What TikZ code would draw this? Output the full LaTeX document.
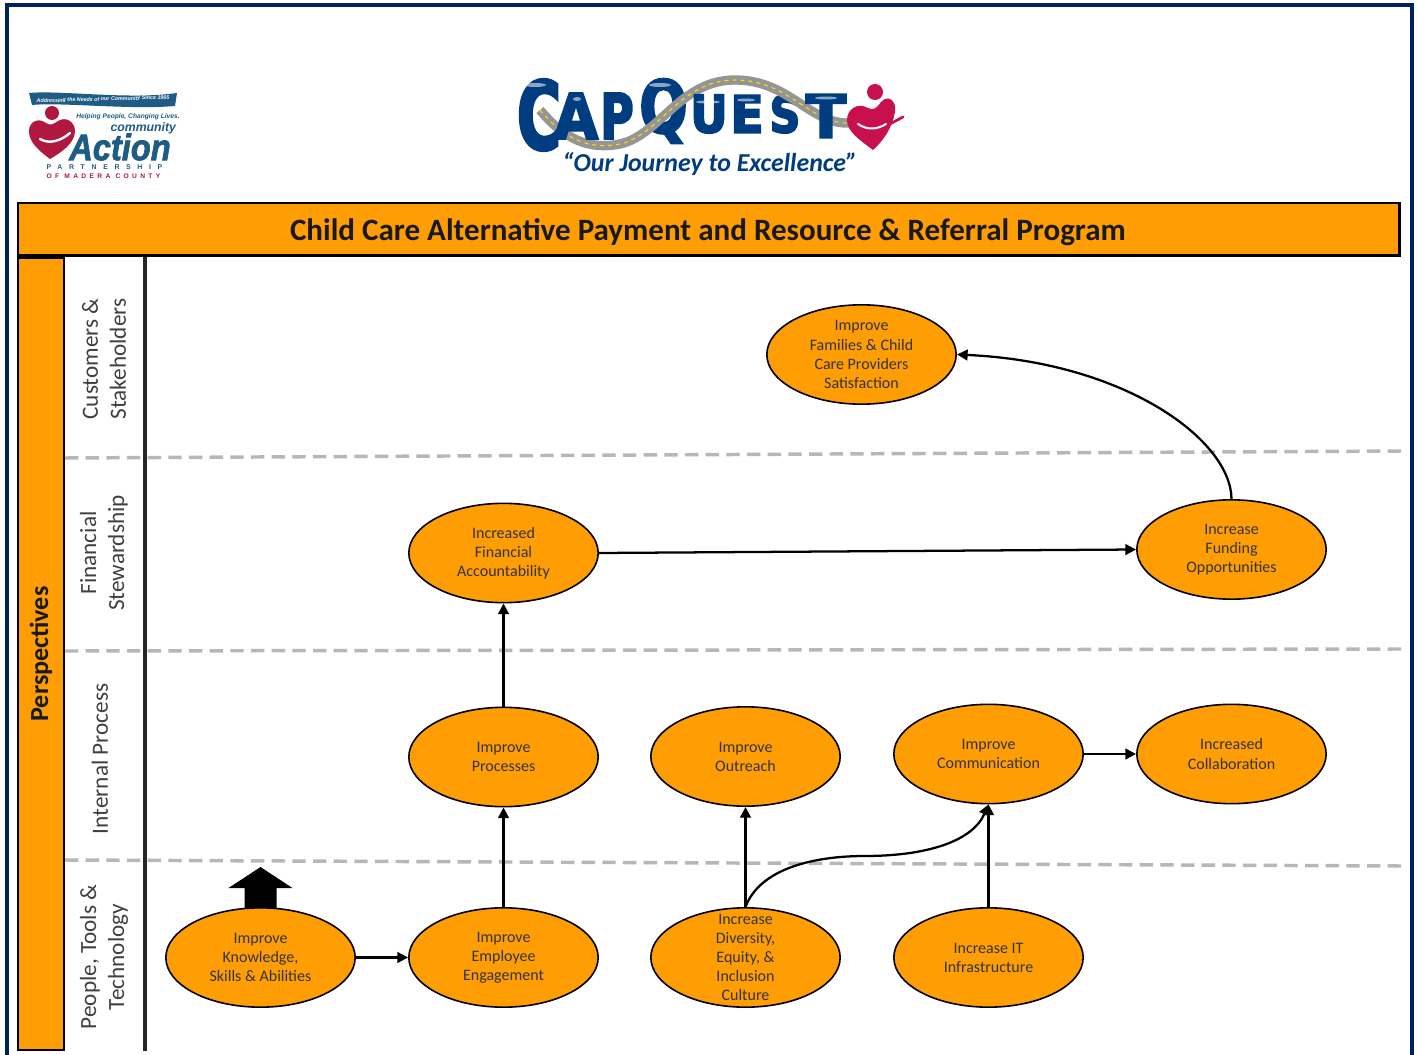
\documentclass[tikz,border=0pt]{standalone}
\usepackage{graphicx}
\usepackage{fontspec}
\setmainfont{Carlito}
\newfontfamily\capfont[UprightFont=* Bold,FakeBold=4]{DejaVu Sans}
\newfontfamily\actfont[UprightFont=* Bold Italic,FakeBold=2]{Liberation Sans}
\newfontfamily\logofont[UprightFont=* Bold,ItalicFont=* Bold Italic]{Liberation Sans}
\newfontfamily\partfont[UprightFont=* Bold,LetterSpace=96]{Liberation Sans}
\newfontfamily\madfont[UprightFont=* Bold,LetterSpace=50]{Liberation Sans}
\usetikzlibrary{shapes.geometric,arrows.meta}
\definecolor{navy}{HTML}{002060}
\definecolor{amber}{HTML}{FF9E04}
\definecolor{dashgray}{HTML}{B8B6B6}
\definecolor{capblue}{HTML}{003C80}
\definecolor{logoblue}{HTML}{1F5C85}
\definecolor{heartred}{HTML}{B01840}
\definecolor{capred}{HTML}{C8104F}
\definecolor{roadgray}{HTML}{959595}
\tikzset{
  oval/.style={ellipse,draw=black,line width=1.2pt,fill=amber,minimum width=142pt,minimum height=74.5pt,inner sep=-16pt,align=center,font=\fontsize{12pt}{14.3pt}\selectfont,text=black!80},
  barbox/.style={draw=black,line width=2pt,fill=amber},
  side/.style={rotate=90,align=center,text=black!75,font=\fontsize{17.4pt}{21pt}\selectfont},
  link/.style={line width=1.7pt,draw=black,-{Triangle[length=8pt,width=8pt]}},
  sep/.style={draw=dashgray,line width=2.6pt,dash pattern=on 10pt off 5.5pt},
  plain/.style={inner sep=0pt,outer sep=0pt},
  shine/.style={fill=white,opacity=0.55}
}
\begin{document}
\begin{tikzpicture}[x=0.75pt,y=-0.75pt]
\useasboundingbox (0,0) rectangle (1417,1055);
\fill[white] (0,0) rectangle (1417,1055);
% frame
\draw[navy,line width=3.3pt] (7,1055) -- (7,5) -- (1412,5) -- (1412,1055);

% bars
\node[barbox,plain,minimum width=1036pt,minimum height=39.5pt,anchor=north west,draw=black] (titlebar) at (18,203) {};
\node[font=\fontsize{23.3pt}{26pt}\selectfont\bfseries,text=black!90,plain] (title) at (708,232) {Child Care Alternative Payment and Resource \& Referral Program};
\node[barbox,plain,minimum width=34.5pt,minimum height=594pt,anchor=north west] (persp) at (18,258) {};
\node[rotate=90,font=\fontsize{19.6pt}{22pt}\selectfont\bfseries,text=black!90,plain] (persplabel) at (41,654) {Perspectives};
\coordinate (axt) at (145,257);
\coordinate (axb) at (145,1051);
\draw[line width=2.4pt,black!85] (axt) -- (axb);

% separators
\coordinate (s1a) at (65,458); \coordinate (s1b) at (1402,451);
\coordinate (s2a) at (65,651); \coordinate (s2b) at (1402,649);
\coordinate (s3a) at (65,860); \coordinate (s3b) at (1402,866);
\draw[sep] (s1a) -- (s1b);
\draw[sep] (s2a) -- (s2b);
\draw[sep] (s3a) -- (s3b);

% side labels
\node[side] (l1) at (104,359) {Customers \&\\Stakeholders};
\node[side] (l2) at (104,553) {Financial\\Stewardship};
\node[side] (l3) at (100,759) {Internal Process};
\node[side] (l4) at (104,957) {People, Tools \&\\Technology};

% ovals
\node[oval] (fam) at (861.5,354.5) {Improve\\Families \& Child\\Care Providers\\Satisfaction};
\node[oval] (fin) at (503.5,553) {Increased\\Financial\\Accountability};
\node[oval] (fund) at (1231.5,549.5) {Increase\\Funding\\Opportunities};
\node[oval] (proc) at (503.5,757) {Improve\\Processes};
\node[oval] (outr) at (745.5,756.5) {Improve\\Outreach};
\node[oval] (comm) at (988.5,754) {Improve\\Communication};
\node[oval] (coll) at (1231.5,754) {Increased\\Collaboration};
\node[oval] (know) at (260.5,957.5) {Improve\\Knowledge,\\Skills \& Abilities};
\node[oval] (enga) at (503.5,957.5) {Improve\\Employee\\Engagement};
\node[oval] (dive) at (745.5,957.5) {Increase\\Diversity,\\Equity, \&\\Inclusion\\Culture};
\node[oval] (it) at (988.5,957.5) {Increase IT\\Infrastructure};

% connectors
\draw[link] (fund.north) .. controls (1231,440) and (1125,362) .. (fam.east);
\draw[link] (fin.east) -- (fund.west);
\draw[link] (proc.north) -- (fin.south);
\draw[link] (enga.north) -- (proc.south);
\draw[link] (dive.north) -- (outr.south);
\draw[link] (it.north) -- (comm.south);
\draw[link] (comm.east) -- (coll.west);
\draw[link] (know.east) -- (enga.west);
\draw[link] (dive.north) .. controls (760,868) and (815,856) .. (865,856) .. controls (925,856) and (972,842) .. (comm.south);
% block arrow
\fill[black] (know.north) ++(-16,1) -- ++(0,-20) -- ++(-16,0) -- ++(32,-21) -- ++(32,21) -- ++(-16,0) -- ++(0,20) -- cycle;

% left logo
\fill[logoblue] (29,93) .. controls (60,90) and (130,100) .. (177,93) -- (175,106) .. controls (130,110) and (60,102) .. (32,105) -- cycle;
\node[plain,rotate=1.5,text=white,font=\logofont\fontsize{4pt}{5pt}\selectfont\itshape] (lg0) at (103,99.5) {Addressing the Needs of our Community Since 1965};
\fill[heartred] (52,113) circle (7);
\fill[heartred] (50,159) .. controls (38,150) and (29,142) .. (29,131) .. controls (29,122) and (38,117) .. (46,123) .. controls (50,126) and (54,124) .. (58,121) .. controls (66,116) and (75,122) .. (75,131) .. controls (75,143) and (62,152) .. (50,159) -- cycle;
\draw[white,line width=1.8pt,line cap=round] (40,139) .. controls (50,145) and (62,140) .. (70,133);
\node[plain,text=logoblue,font=\logofont\fontsize{5pt}{6pt}\selectfont\itshape] (lg1) at (128,117) {Helping People, Changing Lives.};
\node[plain,anchor=east,text=logoblue,font=\logofont\fontsize{9.2pt}{10pt}\selectfont\itshape] (lg2) at (176,128) {community};
\node[plain,text=logoblue] (lg3) at (120,147) {\resizebox{76pt}{20pt}{\actfont Action}};
\node[plain,text=logoblue,font=\partfont\fontsize{5.2pt}{6pt}\selectfont] (lg4) at (104.5,167) {PARTNERSHIP};
\node[plain,text=heartred,font=\madfont\fontsize{5pt}{6pt}\selectfont] (lg5) at (103.5,176.5) {OF MADERA COUNTY};

% CapQuest logo
\node[plain,text=capblue] (cQ) at (663.5,111) {\resizebox{36pt}{40pt}{\capfont Q}};
\node[plain,text=capblue] (cS) at (785,114) {\resizebox{23pt}{28pt}{\capfont S}};
\draw[roadgray,line width=7pt] (540,110) .. controls (565,140) and (590,150) .. (620,144) .. controls (660,135) and (680,80) .. (735,80) .. controls (790,80) and (810,125) .. (850,123);
\draw[yellow!80!orange,line width=0.8pt,dashed] (540,110) .. controls (565,140) and (590,150) .. (620,144) .. controls (660,135) and (680,80) .. (735,80) .. controls (790,80) and (810,125) .. (850,123);
\node[plain,text=capblue] (cC) at (539,115) {\resizebox{33pt}{52pt}{\capfont C}};
\node[plain,text=capblue] (cA) at (576,116) {\resizebox{33pt}{34pt}{\capfont A}};
\node[plain,text=capblue] (cP) at (617,116) {\resizebox{25pt}{34pt}{\capfont P}};
\node[plain,text=capblue] (cU) at (709,114) {\resizebox{28pt}{28pt}{\capfont U}};
\node[plain,text=capblue] (cE) at (747,114) {\resizebox{25pt}{28pt}{\capfont E}};
\node[plain,text=capblue] (cT) at (826,116) {\resizebox{30pt}{32pt}{\capfont T}};
\fill[shine] (535,85) ellipse (11 and 2);
\fill[shine] (660,85) ellipse (11 and 2);
\fill[shine] (577,99) ellipse (4 and 2);
\fill[shine] (708,102) ellipse (12 and 1.5);
\fill[shine] (746,100) ellipse (9 and 1.5);
\fill[shine] (826,98) ellipse (11 and 1.5);
\fill[capred] (875,92) circle (8);
\fill[capred] (873,150) .. controls (860,140) and (847,132) .. (847,120) .. controls (847,109) and (858,102) .. (868,108) .. controls (873,111) and (877,108) .. (881,102) .. controls (888,94) and (897,101) .. (895,112) .. controls (892,128) and (884,140) .. (873,150) -- cycle;
\draw[capred,line width=2pt,line cap=round] (888,125) -- (903,117);
\draw[white,line width=1.5pt,line cap=round] (858,124) .. controls (868,131) and (878,129) .. (886,124);
\node[plain,text=capblue,font=\fontsize{19.4pt}{22pt}\selectfont\bfseries\itshape] (tag) at (710,164) {“Our Journey to Excellence”};
\end{tikzpicture}
\end{document}
